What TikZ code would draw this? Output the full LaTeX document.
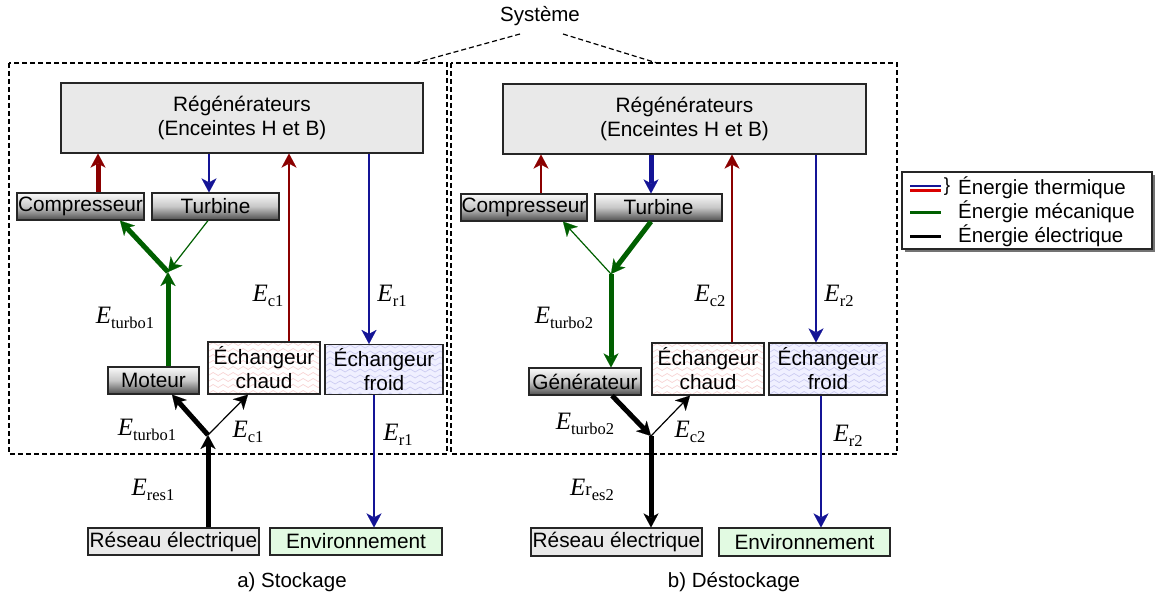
\documentclass[tikz,border=0pt]{standalone}
\usepackage{fontspec}
\setmainfont{Liberation Sans}
\newfontfamily\tms{Liberation Serif}
\usetikzlibrary{arrows.meta,calc,decorations.pathmorphing,shadows}
\definecolor{mred}{RGB}{139,0,0}
\definecolor{mblue}{RGB}{20,20,150}
\definecolor{mgreen}{RGB}{0,95,0}
\definecolor{regfill}{RGB}{233,233,233}
\definecolor{envfill}{RGB}{226,250,226}
\definecolor{wavered}{RGB}{248,212,212}
\definecolor{waveblue}{RGB}{204,204,242}
\definecolor{froidfill}{RGB}{240,240,255}
\newcommand{\Elab}[1]{{\tms\fontsize{25}{25}\selectfont\itshape E}{\tms\fontsize{16.5}{16.5}\selectfont\raisebox{-5pt}{#1}}}
\newcommand{\Elabr}[1]{{\tms\fontsize{25}{25}\selectfont\itshape E}{\tms\fontsize{19}{19}\selectfont r}{\tms\fontsize{16.5}{16.5}\selectfont\raisebox{-5pt}{#1}}}
\tikzset{
  base/.style={draw=black!85, line width=1.2pt, inner sep=0pt, align=center,
    font=\fontsize{20.8}{24}\selectfont},
  regbox/.style={base, fill=regfill, minimum width=362pt, minimum height=70pt},
  machine/.style={base, top color=black!2, bottom color=black!70, middle color=black!22,
    minimum height=27pt},
  wavy/.style={path picture={\foreach \k in {0,...,9}
    \draw[#1, line width=0.7pt, decorate, decoration={snake, segment length=10pt, amplitude=1.5pt}]
      ($(path picture bounding box.north west)+(-8,\k*6+2)$) --
      ($(path picture bounding box.north east)+(8,\k*6+2)$);}},
  echc/.style={base, fill=white, wavy=wavered, minimum width=112pt, minimum height=52pt},
  echf/.style={base, fill=froidfill, wavy=waveblue, minimum width=118pt, minimum height=50pt},
  resbox/.style={base, fill=regfill, minimum width=171pt, minimum height=27pt},
  envbox/.style={base, fill=envfill, minimum width=172pt, minimum height=27pt},
  arr/.style={-{Stealth[length=14pt,width=15pt,inset=4pt,line width=0.1pt]}},
  thin/.style={line width=1.2pt},
  fat/.style={line width=5pt},
  lab/.style={inner sep=0pt},
  txt/.style={inner sep=0pt, font=\fontsize{20.5}{24}\selectfont},
  sysline/.style={dashed, dash pattern=on 5pt off 3pt, line width=1.2pt},
}
\begin{document}
\begin{tikzpicture}[x=1pt, y=-1pt]
\useasboundingbox (0,0) rectangle (1160,599);

% system boxes
\draw[sysline] (9,63) rectangle (447,454);
\draw[sysline] (451,63) rectangle (897,454);
\node[txt] (sys) at (540,16) {Système};
\coordinate (sl1) at (415,63);
\coordinate (sl2) at (520,34);
\coordinate (sl3) at (563,34);
\coordinate (sl4) at (657,63);
\draw[sysline] (sl1) -- (sl2);
\draw[sysline] (sl3) -- (sl4);

% ---------------- a) Stockage ----------------
\node[regbox] (regA) at (242,118) {Régénérateurs\\(Enceintes H et B)};
\node[machine, minimum width=127pt] (compA) at (80.5,206.5) {Compresseur};
\node[machine, minimum width=127pt] (turbA) at (215.5,206.5) {Turbine};
\node[machine, minimum width=91pt] (motA) at (153.5,380.5) {Moteur};
\node[echc] (echcA) at (264,368) {Échangeur\\chaud};
\node[echf] (echfA) at (384,369.5) {Échangeur\\froid};
\node[resbox] (resA) at (173.5,541.5) {Réseau électrique};
\node[envbox] (envA) at (356,541.5) {Environnement};
\coordinate (jmA) at (168,272);
\coordinate (jeA) at (208,435);
\coordinate (xA1) at (98,0);
\coordinate (xA2) at (209,0);
\coordinate (xA3) at (289,0);
\coordinate (xA4) at (369,0);
\coordinate (xA5) at (120,0);
\coordinate (xA6) at (208,0);
\coordinate (xA7) at (168,0);
\coordinate (xA8) at (172,0);
\coordinate (xA9) at (248,0);
\coordinate (xA10) at (374,0);

\draw[arr, fat, mred] (xA1 |- compA.north) -- (xA1 |- regA.south);
\draw[arr, thin, mblue] (xA2 |- regA.south) -- (xA2 |- turbA.north);
\draw[arr, thin, mred] (xA3 |- echcA.north) -- (xA3 |- regA.south);
\draw[arr, thin, mblue] (xA4 |- regA.south) -- (xA4 |- echfA.north);
\draw[arr, fat, mgreen] (jmA) -- (xA5 |- compA.south);
\draw[arr, thin, mgreen] (xA6 |- turbA.south) -- (jmA);
\draw[arr, fat, mgreen] (xA7 |- motA.north) -- (jmA);
\draw[arr, fat, black] (xA6 |- resA.north) -- (jeA);
\draw[arr, fat, black] (jeA) -- (xA8 |- motA.south);
\draw[arr, thin, black] (jeA) -- (xA9 |- echcA.south);
\draw[arr, thin, mblue] (xA10 |- echfA.south) -- (xA10 |- envA.north);

\node[lab] (lA1) at (268,296) {\Elab{c1}};
\node[lab] (lA2) at (392,296) {\Elab{r1}};
\node[lab] (lA3) at (125,318) {\Elab{turbo1}};
\node[lab] (lA4) at (147,430) {\Elab{turbo1}};
\node[lab] (lA5) at (248,432) {\Elab{c1}};
\node[lab] (lA6) at (153,490) {\Elab{res1}};
\node[lab] (lA7) at (398,435) {\Elab{r1}};
\node[txt] (capA) at (292,582) {a) Stockage};

% ---------------- b) Destockage ----------------
\node[regbox, minimum width=363pt] (regB) at (684.5,119) {Régénérateurs\\(Enceintes H et B)};
\node[machine, minimum width=126pt] (compB) at (524,207.5) {Compresseur};
\node[machine, minimum width=127pt] (turbB) at (658.5,207.5) {Turbine};
\node[machine, minimum width=112pt] (genB) at (585,381.5) {Générateur};
\node[echc] (echcB) at (708,369) {Échangeur\\chaud};
\node[echf, minimum height=52pt] (echfB) at (828,369) {Échangeur\\froid};
\node[resbox, minimum height=28pt] (resB) at (616.5,542) {Réseau électrique};
\node[envbox, minimum width=171pt, minimum height=28pt] (envB) at (804.5,542) {Environnement};
\coordinate (jmB) at (611,274);
\coordinate (jeB) at (651,436);
\coordinate (xB1) at (541,0);
\coordinate (xB2) at (651,0);
\coordinate (xB3) at (732,0);
\coordinate (xB4) at (816,0);
\coordinate (xB5) at (563,0);
\coordinate (xB6) at (611,0);
\coordinate (xB7) at (612,0);
\coordinate (xB8) at (690,0);
\coordinate (xB9) at (821,0);

\draw[arr, thin, mred] (xB1 |- compB.north) -- (xB1 |- regB.south);
\draw[arr, fat, mblue] (xB2 |- regB.south) -- (xB2 |- turbB.north);
\draw[arr, thin, mred] (xB3 |- echcB.north) -- (xB3 |- regB.south);
\draw[arr, thin, mblue] (xB4 |- regB.south) -- (xB4 |- echfB.north);
\draw[arr, fat, mgreen] (xB2 |- turbB.south) -- (jmB);
\draw[arr, thin, mgreen] (jmB) -- (xB5 |- compB.south);
\draw[arr, fat, mgreen] (jmB) -- (xB6 |- genB.north);
\draw[arr, fat, black] (xB7 |- genB.south) -- (jeB);
\draw[arr, thin, black] (jeB) -- (xB8 |- echcB.south);
\draw[arr, fat, black] (jeB) -- (xB2 |- resB.north);
\draw[arr, thin, mblue] (xB9 |- echfB.south) -- (xB9 |- envB.north);

\node[lab] (lB1) at (710,296) {\Elab{c2}};
\node[lab] (lB2) at (839,296) {\Elab{r2}};
\node[lab] (lB3) at (564,318) {\Elab{turbo2}};
\node[lab] (lB4) at (585,424) {\Elab{turbo2}};
\node[lab] (lB5) at (690,432) {\Elab{c2}};
\node[lab] (lB6) at (592,490) {\Elabr{es2}};
\node[lab] (lB7) at (848,436) {\Elab{r2}};
\node[txt] (capB) at (734,582) {b) Déstockage};

% ---------------- legend ----------------
\node[draw=black!85, line width=1.2pt, fill=white, minimum width=250pt, minimum height=77pt,
  inner sep=0pt, drop shadow={shadow xshift=3pt, shadow yshift=-3pt, fill=black!55, opacity=1}]
  (leg) at (1027,210.5) {};
\draw[mblue, line width=2.5pt] (910,186) -- (941,186);
\draw[red!85!black, line width=2.5pt] (910,190.5) -- (941,190.5);
\draw[mgreen, line width=3pt] (910,212) -- (941,212);
\draw[black, line width=3pt] (910,236) -- (941,236);
\node[inner sep=0pt, font=\fontsize{19}{19}\selectfont] (brace) at (947,187) {\}};
\node[txt, anchor=west] (lg1) at (958,188) {Énergie thermique};
\node[txt, anchor=west] (lg2) at (958,212) {Énergie mécanique};
\node[txt, anchor=west] (lg3) at (958,236) {Énergie électrique};
\end{tikzpicture}
\end{document}
